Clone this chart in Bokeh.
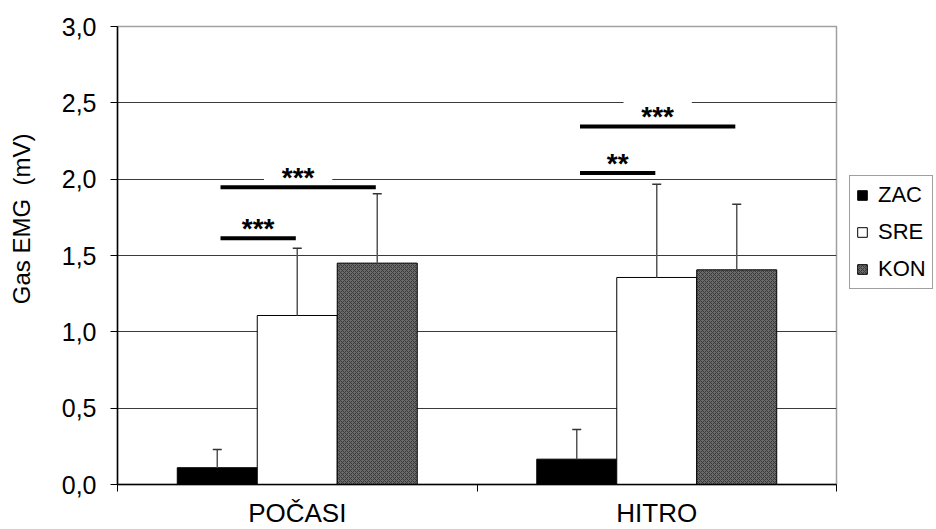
from bokeh.plotting import figure
from bokeh.models import Range1d, FixedTicker, Legend, LegendItem, ColumnDataSource
from bokeh.core.properties import value
from bokeh.embed import file_html
from bokeh.resources import INLINE

# ---- data ----
groups = ["POČASI", "HITRO"]
series = ["ZAC", "SRE", "KON"]
zac = [0.11, 0.166]
sre = [1.107, 1.356]
kon = [1.45, 1.406]
zac_sd = [0.12, 0.194]
sre_sd = [0.44, 0.61]
kon_sd = [0.455, 0.43]
y_ticks = [0.0, 0.5, 1.0, 1.5, 2.0, 2.5, 3.0]
y_title = "Gas EMG\u00a0 (mV)"
sig_group = [0, 0, 1, 1]
sig_from = ["ZAC", "ZAC", "ZAC", "ZAC"]
sig_to = ["SRE", "KON", "SRE", "KON"]
sig_level = [1.613, 1.947, 2.04, 2.345]
sig_text = ["***", "***", "**", "***"]

FONT = "Liberation Sans"
bar_w = 0.2225
offset = {"ZAC": -bar_w, "SRE": 0.0, "KON": bar_w}
centers = [i + 0.5 for i in range(len(groups))]

p = figure(frame_width=719, frame_height=458, output_backend="svg", toolbar_location=None,
           x_range=Range1d(0, len(groups)), y_range=Range1d(0, 3.0),
           min_border_left=117, min_border_top=26, min_border_bottom=45, min_border_right=100)
p.background_fill_color = "white"
p.border_fill_color = "white"
p.outline_line_color = "#a0a0a0"
p.outline_line_width = 1.5

# axes
p.xaxis.ticker = FixedTicker(ticks=centers, minor_ticks=[float(i) for i in range(len(groups) + 1)])
p.xaxis.major_label_overrides = {c: g for c, g in zip(centers, groups)}
p.xaxis.major_tick_out = 0
p.xaxis.major_tick_in = 0
p.xaxis.minor_tick_out = 7
p.xaxis.minor_tick_in = 0
p.xaxis.minor_tick_line_color = "black"
p.xaxis.major_label_standoff = 6
p.xaxis.major_label_text_font_size = "26px"

p.yaxis.ticker = FixedTicker(ticks=y_ticks, minor_ticks=[])
p.yaxis.major_label_overrides = {t: f"{t:.1f}".replace(".", ",") for t in y_ticks}
p.yaxis.major_tick_out = 7
p.yaxis.major_tick_in = 0
p.yaxis.major_label_standoff = 14
p.yaxis.major_label_text_font_size = "25px"
# leading no-break spaces shift the centred title up, as in the reference
p.yaxis.axis_label = "\u00a0" * 11 + y_title
p.yaxis.axis_label_text_font_size = "24px"
p.yaxis.axis_label_text_font_style = "normal"
p.yaxis.axis_label_standoff = 24

for ax in (p.xaxis, p.yaxis):
    ax.axis_line_color = "black"
    ax.axis_line_width = 1.5
    ax.major_tick_line_color = "black"
    ax.major_label_text_font = FONT
    ax.major_label_text_color = "black"
    ax.axis_label_text_font = FONT
    ax.axis_label_text_color = "black"

p.xgrid.grid_line_color = None
p.ygrid.ticker = FixedTicker(ticks=[t for t in y_ticks if 0 < t < 3.0])
p.ygrid.grid_line_color = "#3a3a3a"
p.ygrid.grid_line_width = 1

# bars
vals = {"ZAC": zac, "SRE": sre, "KON": kon}
sds = {"ZAC": zac_sd, "SRE": sre_sd, "KON": kon_sd}
styles = {
    "ZAC": dict(fill_color="black"),
    "SRE": dict(fill_color="white"),
    "KON": dict(fill_color="#6a6a6a", hatch_pattern="diagonal_cross", hatch_color="#3a3a3a",
                hatch_scale=4, hatch_weight=1),
}
renderers = {}
for s in series:
    xs = [c + offset[s] for c in centers]
    src = ColumnDataSource(dict(x=xs, top=vals[s], up=[v + e for v, e in zip(vals[s], sds[s])]))
    renderers[s] = p.vbar(x="x", top="top", width=bar_w, bottom=0, source=src,
                          line_color="black", line_width=1, **styles[s])
    p.segment(x0="x", y0="top", x1="x", y1="up", source=src, line_color="#555555", line_width=1.5)
    p.scatter(x="x", y="up", marker="dash", size=9, source=src, line_color="#333333", line_width=1.5)

# significance markers
sx0, sx1, sxm, tyc = [], [], [], []
for g, f, t, lv in zip(sig_group, sig_from, sig_to, sig_level):
    a = centers[g] + offset[f] + 0.009
    b = centers[g] + offset[t] - 0.004
    sx0.append(a)
    sx1.append(b)
    sxm.append((a + b) / 2)
    tyc.append(lv + 0.097)
sig_src = ColumnDataSource(dict(x0=sx0, x1=sx1, xm=sxm, lv=sig_level, tyc=tyc, txt=sig_text))
p.rect(x="xm", y="tyc", width=0.19, height=26, height_units="screen", source=sig_src,
       fill_color="white", line_color=None)
p.segment(x0="x0", y0="lv", x1="x1", y1="lv", source=sig_src, line_color="black", line_width=4)
p.text(x="xm", y="lv", text="txt", source=sig_src, text_align="center", text_baseline="alphabetic",
       y_offset=-10, text_font=value(FONT), text_font_size="28px", text_font_style="bold",
       text_color="black")

legend = Legend(items=[LegendItem(label=s, renderers=[renderers[s]]) for s in series],
                location=(13, 195), orientation="vertical")
legend.label_text_font = FONT
legend.label_text_font_size = "22px"
legend.label_text_color = "black"
legend.glyph_width = 12
legend.glyph_height = 12
legend.label_height = 21
legend.label_standoff = 10
legend.spacing = 11
legend.padding = 6
legend.border_line_color = "#404040"
legend.border_line_width = 1
legend.background_fill_color = "white"
p.add_layout(legend, "right")

open("out.html", "w").write(file_html(p, INLINE))
